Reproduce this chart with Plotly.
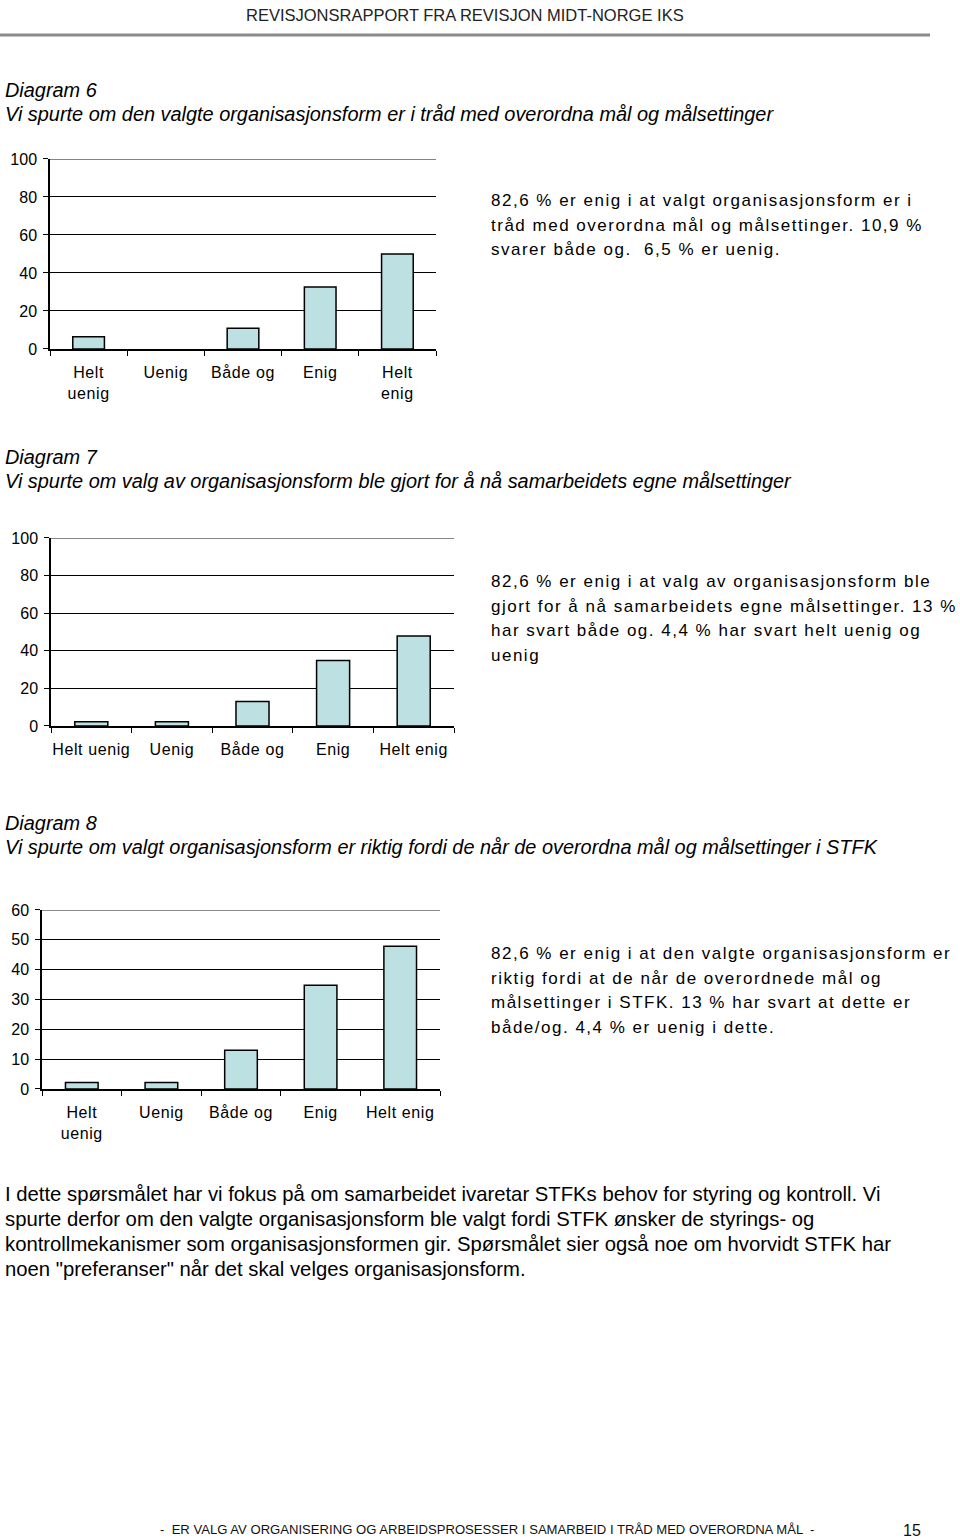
import plotly.graph_objects as go

W, H = 960, 1539

categories = ["Helt uenig", "Uenig", "Både og", "Enig", "Helt enig"]
ticktext6 = ["Helt<br>uenig", "Uenig", "Både og", "Enig", "Helt<br>enig"]
ticktext7 = ["Helt uenig", "Uenig", "Både og", "Enig", "Helt enig"]
ticktext8 = ["Helt<br>uenig", "Uenig", "Både og", "Enig", "Helt enig"]

values6 = [6.5, 0.0, 10.9, 32.6, 50.0]
values7 = [2.2, 2.2, 13.0, 34.8, 47.8]
values8 = [2.2, 2.2, 13.0, 34.8, 47.8]

ytick6 = [0, 20, 40, 60, 80, 100]
ytick7 = [0, 20, 40, 60, 80, 100]
ytick8 = [0, 10, 20, 30, 40, 50, 60]

header = "REVISJONSRAPPORT FRA REVISJON MIDT-NORGE IKS"
title6 = ["Diagram 6", "Vi spurte om den valgte organisasjonsform er i tråd med overordna mål og målsettinger"]
title7 = ["Diagram 7", "Vi spurte om valg av organisasjonsform ble gjort for å nå samarbeidets egne målsettinger"]
title8 = ["Diagram 8", "Vi spurte om valgt organisasjonsform er riktig fordi de når de overordna mål og målsettinger i STFK"]
note6 = ["82,6 % er enig i at valgt organisasjonsform er i",
         "tråd med overordna mål og målsettinger. 10,9 %",
         "svarer både og.  6,5 % er uenig."]
note7 = ["82,6 % er enig i at valg av organisasjonsform ble",
         "gjort for å nå samarbeidets egne målsettinger. 13 %",
         "har svart både og. 4,4 % har svart helt uenig og",
         "uenig"]
note8 = ["82,6 % er enig i at den valgte organisasjonsform er",
         "riktig fordi at de når de overordnede mål og",
         "målsettinger i STFK. 13 % har svart at dette er",
         "både/og. 4,4 % er uenig i dette."]
body = ["I dette spørsmålet har vi fokus på om samarbeidet ivaretar STFKs behov for styring og kontroll. Vi",
        "spurte derfor om den valgte organisasjonsform ble valgt fordi STFK ønsker de styrings- og",
        "kontrollmekanismer som organisasjonsformen gir. Spørsmålet sier også noe om hvorvidt STFK har",
        "noen \"preferanser\" når det skal velges organisasjonsform."]
footer = "-  ER VALG AV ORGANISERING OG ARBEIDSPROSESSER I SAMARBEID I TRÅD MED OVERORDNA MÅL  -"
page_no = "15"

BAR_COLOR = "#BDE0E2"
SANS = "Liberation Sans, Arial, Helvetica, sans-serif"

# vertical placement correction observed in the capture pipeline
Y_OFF, Y_SCALE = 8.0, 0.989

fig = go.Figure()


def px_x(x):
    return x / W


def px_y(y):
    f = max((y - Y_OFF) / Y_SCALE, 0.0)
    return 1 - f / H


def spaced(s, ls):
    return f'<span style="letter-spacing:{ls}px">{s}</span>'


charts = [
    # (values, ticktext, yticks, ymax, x0, x1, ytop, ybot)
    (values6, ticktext6, ytick6, 100, 50, 436, 159, 349),
    (values7, ticktext7, ytick7, 100, 51, 454, 538, 726),
    (values8, ticktext8, ytick8, 60, 42, 440, 910, 1089),
]

layout_axes = {}
shapes = [dict(type="line", xref="paper", yref="paper",
               x0=0, x1=px_x(930), y0=px_y(35), y1=px_y(35),
               line=dict(color="#8a8a8a", width=3))]

for i, (vals, ttext, yt, ymax, x0, x1, yt0, yb0) in enumerate(charts, start=1):
    xa = "x" if i == 1 else f"x{i}"
    ya = "y" if i == 1 else f"y{i}"
    fig.add_trace(go.Bar(
        x=categories, y=vals, xaxis=xa, yaxis=ya,
        marker=dict(color=BAR_COLOR,
                    line=dict(color="black", width=[1.5 if v > 0 else 0 for v in vals])),
        width=0.41, showlegend=False, hoverinfo="x+y",
    ))
    xkey = "xaxis" if i == 1 else f"xaxis{i}"
    ykey = "yaxis" if i == 1 else f"yaxis{i}"
    layout_axes[xkey] = dict(
        domain=[px_x(x0), px_x(x1)], anchor=ya,
        type="category", categoryorder="array", categoryarray=categories,
        tickvals=categories, ticktext=[spaced(t, 0.6) for t in ttext],
        tickson="boundaries", ticks="outside", ticklen=5, tickwidth=1, tickcolor="black",
        tickangle=0, ticklabelstandoff=8,
        showline=True, linecolor="black", linewidth=1.5,
        showgrid=False, zeroline=False,
        tickfont=dict(family=SANS, size=16, color="black"),
        range=[-0.5, 4.5], fixedrange=True,
    )
    layout_axes[ykey] = dict(
        domain=[px_y(yb0), px_y(yt0)], anchor=xa,
        range=[0, ymax], tickvals=yt, ticktext=[str(v) for v in yt],
        ticks="outside", ticklen=5, tickwidth=1, tickcolor="black",
        ticklabelstandoff=3,
        showline=True, linecolor="black", linewidth=1.5,
        showgrid=True, gridcolor="black", gridwidth=1,
        zeroline=False,
        tickfont=dict(family=SANS, size=16, color="black"),
        fixedrange=True,
    )
    # top gridline at the maximum tick (Plotly hides gridlines at the range edge)
    shapes.append(dict(type="line", xref=f"{xa} domain", yref=ya,
                       x0=0, x1=1, y0=ymax, y1=ymax,
                       line=dict(color="black", width=1)))

annotations = []


def text(x, y, s, size, italic=False, xanchor="left", color="black", ls=0.0):
    t = spaced(s, ls) if ls else s
    if italic:
        t = f"<i>{t}</i>"
    annotations.append(dict(
        x=px_x(x), y=px_y(y), xref="paper", yref="paper",
        text=t, showarrow=False,
        xanchor=xanchor, yanchor="middle", align="left",
        font=dict(family=SANS, size=size, color=color),
    ))


text(465, 15, header, 16.5, xanchor="center", color="#222")

for lines, ys in [(title6, [90, 114]), (title7, [457, 481]), (title8, [823, 847])]:
    for s, y in zip(lines, ys):
        text(3, y, s, 19.9, italic=True)

for lines, y0 in [(note6, 201), (note7, 582), (note8, 954)]:
    for k, s in enumerate(lines):
        text(489, y0 + k * 24.5, s, 17, ls=1.5)

for k, s in enumerate(body):
    text(3, 1194 + k * 25, s, 20.3)

text(487, 1530, footer, 13.1, xanchor="center", color="#111")
text(912, 1531, page_no, 16, xanchor="center", color="#111")

fig.update_layout(
    width=W, height=H,
    margin=dict(l=0, r=0, t=0, b=0),
    paper_bgcolor="white", plot_bgcolor="white",
    bargap=0.59,
    annotations=annotations,
    shapes=shapes,
    **layout_axes,
)

post = (
    "document.documentElement.style.margin='0px';"
    "document.body.style.margin='0px';"
    "document.body.style.padding='0px';"
    "document.body.style.overflow='hidden';"
    "var gd=document.getElementsByClassName('plotly-graph-div')[0];"
    "gd.style.position='fixed';gd.style.top='0px';gd.style.left='0px';"
)

fig.write_html("out.html", config={"displayModeBar": False}, post_script=post)
